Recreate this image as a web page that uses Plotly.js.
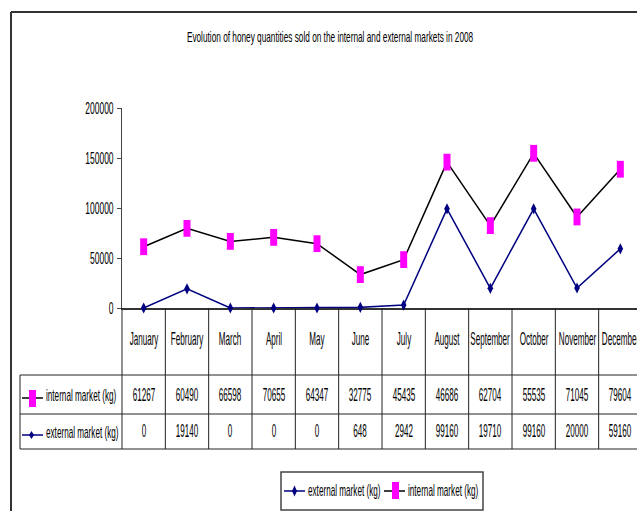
<!DOCTYPE html>
<html>
<head>
<meta charset="utf-8">
<script src="https://cdn.plot.ly/plotly-3.0.1.min.js"></script>
<style>
  html, body { margin: 0; padding: 0; overflow: hidden; background: #fff; }
  #chart { width: 637px; height: 511px; }
</style>
</head>
<body>
<div id="chart"></div>
<script>
// ---- data ----
const months = ['January', 'February', 'March', 'April', 'May', 'June',
                'July', 'August', 'September', 'October', 'November', 'December'];
const internalMarket = [61267, 60490, 66598, 70655, 64347, 32775, 45435, 46686, 62704, 55535, 71045, 79604];
const externalMarket = [0, 19140, 0, 0, 0, 648, 2942, 99160, 19710, 99160, 20000, 59160];
const yTicks = [0, 50000, 100000, 150000, 200000];
const chartTitle = 'Evolution of honey quantities sold on the internal and external markets in 2008';
const externalName = 'external market (kg)';
const internalName = 'internal market (kg)';

// ---- page geometry (pixels) ----
const W = 637, H = 511;
const L = 122, T = 108, B = 308;          // plot area: left, top, bottom
const fx = x => (x - L) / (W - L);        // pixel -> paper x
const fy = y => (B - y) / (B - T);        // pixel -> paper y

const NAVY = '#000080', MAGENTA = '#FF00FF', GRID = '#222';
const FONT = 'Liberation Sans, Arial, Helvetica, sans-serif';

// ---- traces: internal sales are stacked on top of external sales ----
const traces = [
  {
    type: 'scatter', name: externalName, x: months, y: externalMarket,
    stackgroup: 'sales', fill: 'none', mode: 'lines+markers', cliponaxis: false,
    line: { color: NAVY, width: 1.5 },
    marker: { symbol: 'diamond-tall', size: 8, color: NAVY }
  },
  {
    type: 'scatter', name: internalName, x: months, y: internalMarket,
    stackgroup: 'sales', fill: 'none', mode: 'lines+markers', cliponaxis: false,
    line: { color: '#000', width: 1.5 },
    marker: { symbol: 'line-ns', size: 12, color: MAGENTA, line: { color: MAGENTA, width: 7 } }
  }
];

// ---- helpers for the data table and legend ----
const seg = (x0, y0, x1, y1, color, width) => ({
  type: 'line', xref: 'paper', yref: 'paper',
  x0: fx(x0), y0: fy(y0), x1: fx(x1), y1: fy(y1),
  line: { color: color, width: width }
});
const box = (x0, y0, x1, y1, color) => ({
  type: 'rect', xref: 'paper', yref: 'paper',
  x0: fx(x0), y0: fy(y0), x1: fx(x1), y1: fy(y1),
  fillcolor: color, line: { width: 0 }
});
const diamond = (cx, cy, w, h, color) => ({
  type: 'path', xref: 'paper', yref: 'paper',
  path: `M${fx(cx)},${fy(cy - h / 2)} L${fx(cx + w / 2)},${fy(cy)} L${fx(cx)},${fy(cy + h / 2)} L${fx(cx - w / 2)},${fy(cy)} Z`,
  fillcolor: color, line: { width: 0 }
});

const shapes = [];
// outer frame
shapes.push(seg(11, 12, W + 2, 12, '#333', 2));
shapes.push(seg(11, 12, 11, H + 2, '#333', 2));
// table: column separators
shapes.push(seg(L, B, L, 449, GRID, 1));
for (let i = 1; i < months.length; i++) {
  shapes.push({ type: 'line', xref: 'x', yref: 'paper', x0: i - 0.5, x1: i - 0.5,
                y0: fy(B), y1: fy(449), line: { color: GRID, width: 1 } });
}
// table: row rules and left edge
[375, 414, 449].forEach(y => shapes.push(seg(20, y, W + 5, y, GRID, 1)));
shapes.push(seg(20, 375, 20, 449, GRID, 1));
// table row keys
shapes.push(seg(22, 398, 43, 398, '#000', 1.5));
shapes.push(box(29, 390, 36, 407, MAGENTA));
shapes.push(seg(22, 435, 43, 435, NAVY, 1.5));
shapes.push(diamond(31.5, 435, 5, 8, NAVY));
// bottom legend
shapes.push({ type: 'rect', xref: 'paper', yref: 'paper',
              x0: fx(281), x1: fx(483), y0: fy(472), y1: fy(510),
              fillcolor: 'rgba(0,0,0,0)', line: { color: '#444', width: 1.5 } });
shapes.push(seg(284, 491, 305, 491, NAVY, 1.5));
shapes.push(diamond(294.5, 491, 5, 11, NAVY));
shapes.push(seg(384, 491, 405, 491, '#000', 1.5));
shapes.push(box(392, 482, 399, 499, MAGENTA));

// ---- text: annotations plus a horizontal squeeze factor for each ----
const annotations = [];
const squeeze = [];
function addText(text, opts, factor) {
  annotations.push(Object.assign({ text: text, showarrow: false, yanchor: 'middle',
                                   font: { family: FONT, size: 18, color: '#000' } }, opts));
  squeeze.push(factor);
}
months.forEach(m => addText(m, { xref: 'x', x: m, yref: 'paper', y: fy(338.5) }, 0.45));
internalMarket.forEach((v, i) => addText(String(v), { xref: 'x', x: months[i], yref: 'paper', y: fy(395) }, 0.45));
externalMarket.forEach((v, i) => addText(String(v), { xref: 'x', x: months[i], yref: 'paper', y: fy(431) }, 0.45));
const labelFont = { family: FONT, size: 17, color: '#000' };
addText(internalName, { xref: 'paper', x: fx(44), xanchor: 'left', align: 'left', yref: 'paper', y: fy(395), font: labelFont }, 0.48);
addText(externalName, { xref: 'paper', x: fx(44), xanchor: 'left', align: 'left', yref: 'paper', y: fy(432), font: labelFont }, 0.48);
addText(externalName, { xref: 'paper', x: fx(306), xanchor: 'left', align: 'left', yref: 'paper', y: fy(490.5), font: labelFont }, 0.48);
addText(internalName, { xref: 'paper', x: fx(406), xanchor: 'left', align: 'left', yref: 'paper', y: fy(490.5), font: labelFont }, 0.48);
// tail of the surrounding page text, cut by the top edge
addText('company', { xref: 'paper', x: fx(14), xanchor: 'left', align: 'left', yref: 'paper', y: fy(2), yanchor: 'bottom',
                     font: { family: 'Liberation Serif, Times New Roman, serif', size: 26, color: '#000' } }, 1);

const layout = {
  width: W, height: H,
  margin: { l: L, r: 0, t: T, b: H - B, pad: 0 },
  paper_bgcolor: '#fff', plot_bgcolor: 'rgba(0,0,0,0)',
  showlegend: false,
  font: { family: FONT, color: '#000' },
  title: {
    text: chartTitle, font: { family: FONT, size: 14, color: '#000' },
    xref: 'container', x: 330 / W, xanchor: 'center',
    yref: 'container', y: 1 - 32 / H, yanchor: 'top'
  },
  xaxis: {
    type: 'category', range: [-0.5, months.length - 0.5 - 5 / 43.3],
    showticklabels: false, ticks: '', showgrid: false, zeroline: false,
    showline: true, linecolor: '#333', linewidth: 2, layer: 'below traces'
  },
  yaxis: {
    range: [0, 200000], tickvals: yTicks, ticktext: yTicks.map(String),
    ticks: 'outside', ticklen: 4, tickwidth: 1, tickcolor: '#444',
    showline: true, linecolor: '#444', linewidth: 1,
    showgrid: false, zeroline: false, layer: 'below traces',
    tickfont: { family: FONT, size: 17, color: '#000' }
  },
  shapes: shapes,
  annotations: annotations
};

// narrow a text element horizontally, keeping its anchor point fixed
function condense(el, factor) {
  if (!el || factor === 1) return;
  const bb = el.getBBox();
  const anchor = el.getAttribute('text-anchor') || el.style.textAnchor || 'start';
  const ax = anchor === 'middle' ? bb.x + bb.width / 2 : anchor === 'end' ? bb.x + bb.width : bb.x;
  const prev = el.getAttribute('transform') || '';
  el.setAttribute('transform', `${prev} translate(${ax} 0) scale(${factor} 1) translate(${-ax} 0)`);
}

Plotly.newPlot('chart', traces, layout, { staticPlot: true, displayModeBar: false }).then(gd => {
  condense(gd.querySelector('.gtitle'), 0.59);
  gd.querySelectorAll('.ytick text').forEach(t => condense(t, 0.5));
  gd.querySelectorAll('g.annotation').forEach(g => {
    const i = +g.getAttribute('data-index');
    condense(g.querySelector('text.annotation-text'), squeeze[i]);
  });
  // square ends on the bar-shaped markers
  gd.querySelectorAll('.scatterlayer .trace path.point').forEach(p => { p.style.strokeLinecap = 'butt'; });
});
</script>
</body>
</html>
